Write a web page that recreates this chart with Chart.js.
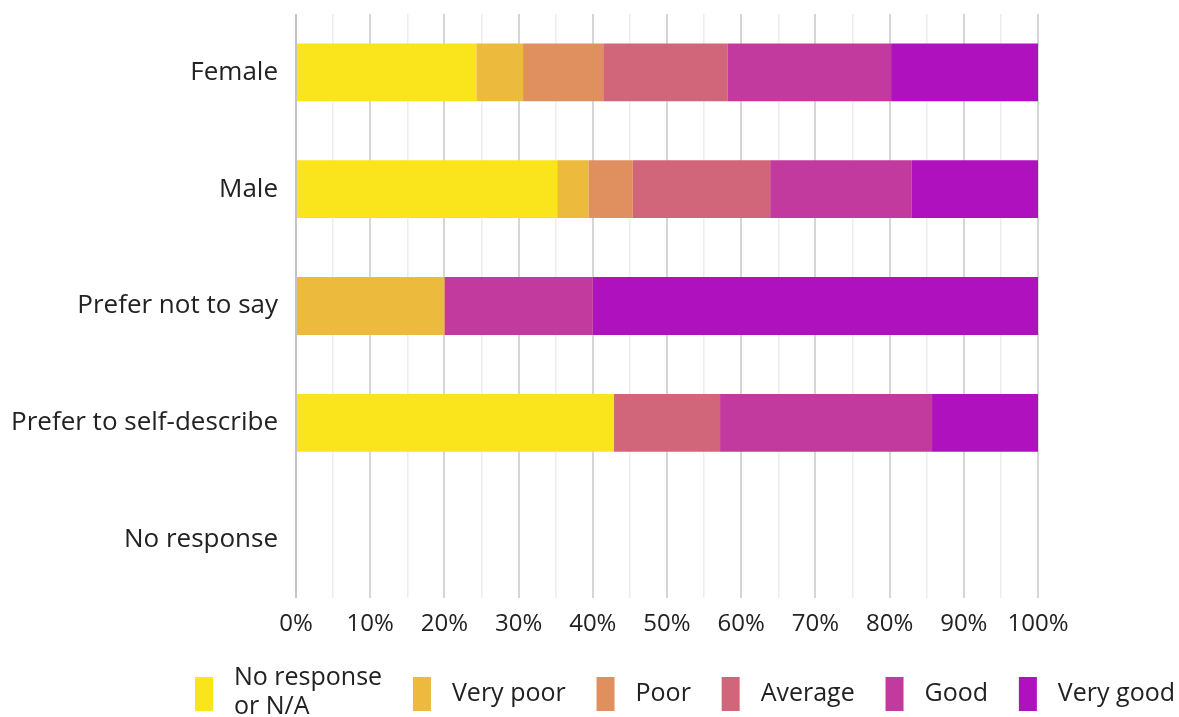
<!DOCTYPE html>
<html>
<head>
<meta charset="utf-8">
<script src="https://cdn.jsdelivr.net/npm/chart.js@4/dist/chart.umd.min.js"></script>
<style>
  html, body { margin: 0; padding: 0; background: #fff; }
  #wrap { width: 1179px; height: 717px; position: relative; }
</style>
</head>
<body>
<div id="wrap"><canvas id="c"></canvas></div>
<script>
const categories = ["Female", "Male", "Prefer not to say", "Prefer to self-describe", "No response"];
const seriesNames = ["No response\nor N/A", "Very poor", "Poor", "Average", "Good", "Very good"];
const seriesColors = ["#FAE51C", "#ECBA3C", "#E08F5E", "#D16579", "#C23A9E", "#B011BF"];
const noResponse = [24.3, 35.2, 0, 42.86, 0];
const veryPoor   = [6.3, 4.2, 20, 0, 0];
const poor       = [10.8, 6.0, 0, 0, 0];
const average    = [16.8, 18.5, 0, 14.29, 0];
const good       = [22.0, 19.1, 20, 28.57, 0];
const veryGood   = [19.8, 17.0, 60, 14.28, 0];
const tickValues = [0, 10, 20, 30, 40, 50, 60, 70, 80, 90, 100];

const allSeries = [noResponse, veryPoor, poor, average, good, veryGood];
const FONT = "'Open Sans', 'DejaVu Sans', sans-serif";
const TEXT = "#222222";

// Custom legend drawn below the chart
const customLegend = {
  id: 'customLegend',
  afterDraw(chart) {
    const ctx = chart.ctx;
    const size = 25;
    ctx.save();
    ctx.font = size + "px " + FONT;
    ctx.fillStyle = TEXT;
    ctx.textBaseline = 'middle';
    const boxW = 18, boxH = 34, gapText = 21;
    const items = chart.data.datasets.map(ds => {
      const lines = ds.label.split('\n');
      const w = Math.max(...lines.map(l => ctx.measureText(l).width));
      return { lines, w, color: ds.backgroundColor };
    });
    const left = 195, right = 1175;
    const used = items.reduce((a, it) => a + boxW + gapText + it.w, 0);
    const gapItem = (right - left - used) / (items.length - 1);
    let x = left;
    const cy = 694;
    items.forEach(it => {
      ctx.fillStyle = it.color;
      ctx.fillRect(x, cy - boxH / 2, boxW, boxH);
      ctx.fillStyle = TEXT;
      const tx = x + boxW + gapText;
      if (it.lines.length === 1) {
        ctx.fillText(it.lines[0], tx, cy);
      } else {
        const lh = 29;
        it.lines.forEach((l, k) => ctx.fillText(l, tx, cy - lh / 2 + k * lh - 2));
      }
      x = tx + it.w + gapItem;
    });
    ctx.restore();
  }
};

new Chart(document.getElementById('c'), {
  type: 'bar',
  data: {
    labels: categories,
    datasets: allSeries.map((d, i) => ({
      label: seriesNames[i],
      data: d,
      backgroundColor: seriesColors[i],
      borderWidth: 0,
      categoryPercentage: 1,
      barPercentage: 0.495
    }))
  },
  plugins: [customLegend],
  options: {
    indexAxis: 'y',
    responsive: true,
    maintainAspectRatio: false,
    animation: false,
    layout: { padding: { top: 14, right: 141, left: 0, bottom: 75 } },
    scales: {
      x: {
        stacked: true,
        min: 0, max: 100,
        border: { display: false },
        ticks: {
          stepSize: 5,
          autoSkip: false,
          maxRotation: 0,
          padding: 12,
          color: TEXT,
          font: { family: FONT, size: 24 },
          callback: (v) => tickValues.includes(v) ? v + '%' : ''
        },
        grid: {
          drawTicks: false,
          color: (ctx) => ctx.tick && ctx.tick.value % 10 === 0 ? (ctx.tick.value === 0 ? '#c4c4c4' : '#d6d6d6') : '#ededed',
          lineWidth: (ctx) => ctx.tick && ctx.tick.value % 10 === 0 ? 2 : 1.5
        },
        afterFit: (s) => { s.height = 44; }
      },
      y: {
        stacked: true,
        border: { display: false },
        grid: { display: false, drawTicks: false },
        ticks: {
          padding: 18,
          color: TEXT,
          font: { family: FONT, size: 26 }
        },
        afterFit: (s) => { s.width = 296; s.paddingTop = 0; s.paddingBottom = 0; }
      }
    },
    plugins: {
      tooltip: { enabled: false },
      legend: { display: false }
    }
  }
});
</script>
</body>
</html>
